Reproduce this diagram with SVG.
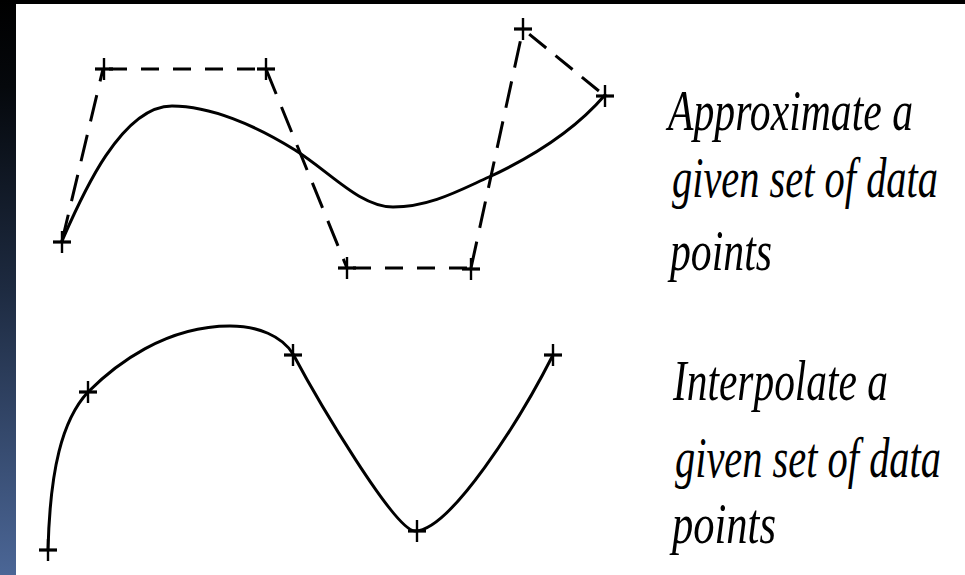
<svg xmlns="http://www.w3.org/2000/svg" width="965" height="575" viewBox="0 0 965 575">
  <defs>
    <linearGradient id="strip" x1="0" y1="0" x2="0" y2="1">
      <stop offset="0" stop-color="#000000"/>
      <stop offset="0.15" stop-color="#05080c"/>
      <stop offset="0.5" stop-color="#1d2a40"/>
      <stop offset="1" stop-color="#4b6696"/>
    </linearGradient>
    <g id="plus">
      <line x1="-9" y1="0" x2="9" y2="0" stroke="#000" stroke-width="3.2"/>
      <line x1="0" y1="-11" x2="0" y2="11" stroke="#000" stroke-width="2.4"/>
    </g>
  </defs>
  <style>
    .curve { fill: none; stroke: #000; stroke-width: 3; stroke-linecap: round; }
    .dash { fill: none; stroke: #000; stroke-width: 3; }
    .lbl { font-family: "Liberation Serif", "Times New Roman", serif; font-style: italic; font-size: 40px; fill: #000; }
  </style>

  <rect x="0" y="0" width="965" height="575" fill="#000"/>
  <rect x="0" y="0" width="16" height="575" fill="url(#strip)"/>
  <rect x="16" y="4" width="949" height="571" fill="#ffffff"/>

  <g id="connectors">
    <g id="control-polygon">
      <line class="dash" x1="62" y1="241" x2="103" y2="69" stroke-dasharray="27 14"/>
      <line class="dash" x1="103" y1="69" x2="266" y2="69" stroke-dasharray="18 14" stroke-dashoffset="-6"/>
      <line class="dash" x1="266" y1="69" x2="347" y2="268" stroke-dasharray="27 14"/>
      <line class="dash" x1="347" y1="268" x2="471" y2="268" stroke-dasharray="18 14" stroke-dashoffset="-6"/>
      <line class="dash" x1="471" y1="268" x2="523" y2="29" stroke-dasharray="27 14"/>
      <line class="dash" x1="523" y1="29" x2="605" y2="96" stroke-dasharray="22 12" stroke-dashoffset="-8"/>
    </g>
    <path id="approx-curve" class="curve" d="M 62 241 C 80 200, 120 106, 172 106 C 210 106, 255 125, 295 150 C 330 172, 360 207, 393 207 C 430 207, 460 190, 489 177 C 530 158, 575 130, 605 95"/>
    <path id="interp-curve" class="curve" d="M 48 550 C 50 470, 62 420, 88 392 C 115 365, 165 326, 230 326 C 258 326, 282 336, 293 354 C 318 401, 395 531, 415 531 C 450 531, 520 420, 553 355"/>
  </g>

  <g id="approx-points">
    <use href="#plus" x="62" y="242"/>
    <use href="#plus" x="104" y="69"/>
    <use href="#plus" x="266" y="69"/>
    <use href="#plus" x="347" y="268"/>
    <use href="#plus" x="471" y="269"/>
    <use href="#plus" x="523" y="29"/>
    <use href="#plus" x="605" y="96"/>
  </g>

  <g id="interp-points">
    <use href="#plus" x="48" y="550"/>
    <use href="#plus" x="88" y="392"/>
    <use href="#plus" x="293" y="355"/>
    <use href="#plus" x="417" y="531"/>
    <use href="#plus" x="553" y="355"/>
  </g>

  <g id="label-approximate">
    <text class="lbl" transform="translate(668,130) scale(1,1.42)" textLength="245" lengthAdjust="spacingAndGlyphs">Approximate a</text>
    <text class="lbl" transform="translate(672,197) scale(1,1.42)" textLength="266" lengthAdjust="spacingAndGlyphs">given set of data</text>
    <text class="lbl" transform="translate(670,270) scale(1,1.42)" textLength="102" lengthAdjust="spacingAndGlyphs">points</text>
  </g>

  <g id="label-interpolate">
    <text class="lbl" transform="translate(673,400) scale(1,1.42)" textLength="215" lengthAdjust="spacingAndGlyphs">Interpolate a</text>
    <text class="lbl" transform="translate(675,477) scale(1,1.42)" textLength="266" lengthAdjust="spacingAndGlyphs">given set of data</text>
    <text class="lbl" transform="translate(672,543) scale(1,1.42)" textLength="104" lengthAdjust="spacingAndGlyphs">points</text>
  </g>
</svg>
